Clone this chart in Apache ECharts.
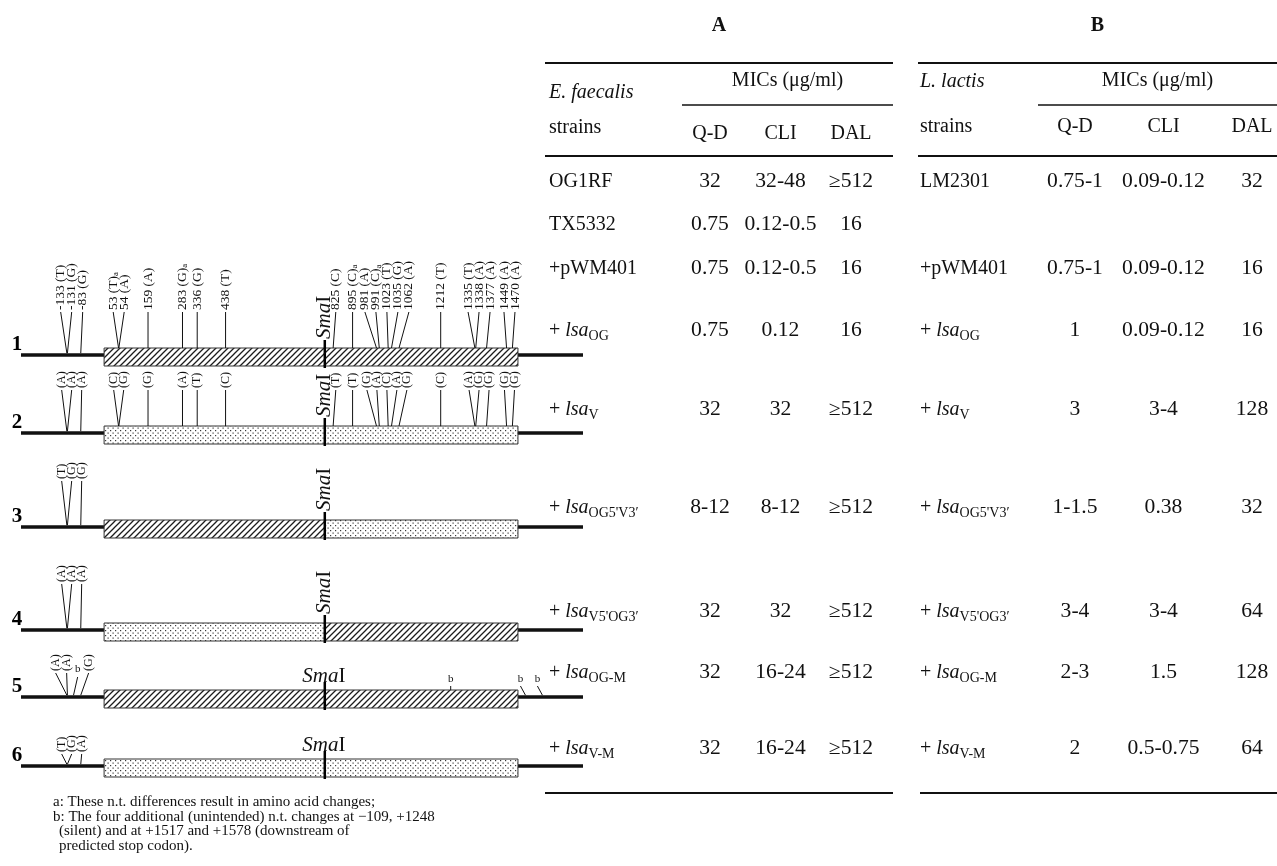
<!DOCTYPE html>
<html>
<head>
<meta charset="utf-8">
<title>lsa constructs and MICs</title>
<script src="https://cdn.jsdelivr.net/npm/echarts@6/dist/echarts.min.js"></script>
<style>
  html, body { margin: 0; padding: 0; background: #fff; }
  #chart { width: 1277px; height: 866px; }
</style>
</head>
<body>
<div id="chart"></div>
<script>
// ---------- data ----------
// n.t. positions where lsa(OG) and lsa(V) differ
var mutPos = [-133, -131, -83, 53, 54, 159, 283, 336, 438, 825, 895, 981, 991, 1023, 1035, 1062, 1212, 1335, 1338, 1377, 1449, 1470];
var baseOG = ['T', 'G', 'G', 'T', 'A', 'A', 'G', 'G', 'T', 'C', 'C', 'A', 'C', 'T', 'G', 'A', 'T', 'T', 'A', 'A', 'A', 'A'];
var baseV  = ['A', 'A', 'A', 'C', 'G', 'G', 'A', 'T', 'C', 'T', 'T', 'G', 'A', 'C', 'A', 'G', 'C', 'A', 'G', 'G', 'G', 'G'];
var aaChange = [53, 283, 895, 991];        // footnote a
var extraPos = [-109, 1248, 1517, 1578];   // footnote b (construct 5 only)
var upBases = [['T', 'G', 'G'], ['A', 'A', 'A'], ['T', 'G', 'G'], ['A', 'A', 'A'], ['A', 'A', 'G'], ['T', 'G', 'A']];

var constructs = ['1', '2', '3', '4', '5', '6'];
var half5 = ['OG', 'V', 'OG', 'V', 'OG', 'V'];
var half3 = ['OG', 'V', 'V', 'OG', 'OG', 'V'];
var geneStart = 1, smaPos = 795, geneEnd = 1490;
var lineStart = -298, lineEnd = 1724;

var drugs = ['Q-D', 'CLI', 'DAL'];
var variants = ['OG', 'V', "OG5'V3′", "V5'OG3′", 'OG-M', 'V-M'];
var strainsA = ['OG1RF', 'TX5332', '+pWM401'].concat(variants);
var qdA  = ['32', '0.75', '0.75', '0.75', '32', '8-12', '32', '32', '32'];
var cliA = ['32-48', '0.12-0.5', '0.12-0.5', '0.12', '32', '8-12', '32', '16-24', '16-24'];
var dalA = ['≥512', '16', '16', '16', '≥512', '≥512', '≥512', '≥512', '≥512'];
var strainsB = ['LM2301', '+pWM401'].concat(variants);
var qdB  = ['0.75-1', '0.75-1', '1', '3', '1-1.5', '3-4', '2-3', '2'];
var cliB = ['0.09-0.12', '0.09-0.12', '0.09-0.12', '3-4', '0.38', '3-4', '1.5', '0.5-0.75'];
var dalB = ['32', '16', '16', '128', '32', '64', '128', '64'];

// ---------- layout ----------
var rowY = [182, 225, 269, 331, 410, 508, 612, 673, 749];
var rowsA = [0, 1, 2, 3, 4, 5, 6, 7, 8];
var rowsB = [0, 2, 3, 4, 5, 6, 7, 8];
var trackY = [355, 433, 527, 630, 697, 766];
var labelGap = [45, 45, 48, 48, 26, 14];
var tables = [
    {title: 'A', host: 'E. faecalis', left: 545, right: 893, subLeft: 682, strainX: 549, hostY: 93, strainsY: 128, drugY: 134, bottomLeft: 545},
    {title: 'B', host: 'L. lactis', left: 918, right: 1277, subLeft: 1038, strainX: 920, hostY: 82, strainsY: 127, drugY: 127, bottomLeft: 920}
];
var serif = '"Liberation Serif", "DejaVu Serif", serif';
var ink = '#111';

function tile(kind) {
    var c = document.createElement('canvas');
    var s = kind === 'OG' ? 6 : 5;
    c.width = s; c.height = s;
    var g = c.getContext('2d');
    g.fillStyle = '#fff';
    g.fillRect(0, 0, s, s);
    if (kind === 'OG') {
        g.strokeStyle = '#1c1c1c';
        g.lineWidth = 1.3;
        g.beginPath();
        g.moveTo(-1, s + 1); g.lineTo(s + 1, -1);
        g.moveTo(-1, 1); g.lineTo(1, -1);
        g.moveTo(s - 1, s + 1); g.lineTo(s + 1, s - 1);
        g.stroke();
    } else {
        g.fillStyle = '#3a3a3a';
        g.fillRect(0, 0, 1.2, 1.2);
        g.fillRect(2.5, 2.5, 1.2, 1.2);
    }
    return {image: c, repeat: 'repeat'};
}
var fills = {OG: tile('OG'), V: tile('V')};

function tok(size, extra) {
    var o = {fontSize: size, fontFamily: serif, fill: ink};
    for (var k in extra) o[k] = extra[k];
    return o;
}

function spread(xs, gap) {
    var order = xs.map(function (x, i) { return i; }).sort(function (a, b) { return xs[a] - xs[b]; });
    var out = xs.slice();
    for (var it = 0; it < 80; it++) {
        var moved = false;
        for (var j = 1; j < order.length; j++) {
            var a = order[j - 1], b = order[j];
            var d = out[b] - out[a];
            if (d < gap - 0.01) {
                var m = (gap - d) / 2;
                out[a] -= m; out[b] += m; moved = true;
            }
        }
        if (!moved) break;
    }
    return out;
}

// labels drawn above construct k
function labelsFor(k) {
    var list = [];
    if (k < 2) {
        var bases = k === 0 ? baseOG : baseV;
        mutPos.forEach(function (p, i) {
            var t = k === 0 ? '{n|' + p + ' (' + bases[i] + ')}' : '{n|(' + bases[i] + ')}';
            if (k === 0 && aaChange.indexOf(p) >= 0) t += '{s|a}';
            list.push({pos: p, text: t, rot: true});
        });
    } else {
        mutPos.slice(0, 3).forEach(function (p, i) {
            list.push({pos: p, text: '{n|(' + upBases[k][i] + ')}', rot: true});
        });
        if (k === 4) {
            list.push({pos: extraPos[0], text: 'b', rot: false});
        }
    }
    return list;
}

function renderConstruct(params, api) {
    var k = params.dataIndex;
    var ty = trackY[k];
    var X = function (nt) { return api.coord([nt, ty])[0]; };
    var xL = X(lineStart), xR = X(lineEnd), xs = X(geneStart), xm = X(smaPos), xe = X(geneEnd);
    var top = ty - 7, h = 18;
    var kids = [];
    kids.push({type: 'line', shape: {x1: xL, y1: ty, x2: xR, y2: ty}, style: {stroke: ink, lineWidth: 3.5}});
    kids.push({type: 'rect', shape: {x: xs, y: top, width: xm - xs, height: h}, style: {fill: fills[half5[k]], stroke: '#333', lineWidth: 1}});
    kids.push({type: 'rect', shape: {x: xm, y: top, width: xe - xm, height: h}, style: {fill: fills[half3[k]], stroke: '#333', lineWidth: 1}});
    kids.push({type: 'line', shape: {x1: xm, y1: ty - 15, x2: xm, y2: ty + 13}, style: {stroke: '#000', lineWidth: 2.5}});
    kids.push({type: 'text', style: {text: constructs[k], x: xL - 4, y: ty - 10, fontSize: 21, fontWeight: 'bold', fontFamily: serif, fill: '#000', align: 'center', verticalAlign: 'middle'}});

    var smaRich = {i: tok(21, {fontStyle: 'italic'}), r: tok(21)};
    if (k < 4) {
        kids.push({type: 'text', x: xm, y: ty - 16, rotation: Math.PI / 2,
            style: {text: '{i|Sma}{r|I}', x: 0, y: 0, align: 'left', verticalAlign: 'middle', rich: smaRich, fontSize: 21, fontFamily: serif}});
    } else {
        kids.push({type: 'text', style: {text: '{i|Sma}{r|I}', x: xm - 1, y: ty - 21, align: 'center', verticalAlign: 'middle', rich: smaRich, fontSize: 21, fontFamily: serif}});
    }

    // mutation labels and connectors
    var labs = labelsFor(k);
    var gap = k === 0 ? 11 : (k === 4 ? 11 : 10);
    var lx = spread(labs.map(function (l) { return X(l.pos); }), gap);
    if (k < 2) {
        // keep labels right of the SmaI site clear of the vertical SmaI text
        var right = labs.map(function (l, i) { return i; })
            .filter(function (i) { return labs[i].pos > smaPos; })
            .sort(function (a, b) { return lx[a] - lx[b]; });
        var cur = xm + 11;
        right.forEach(function (i) {
            if (lx[i] < cur) lx[i] = cur;
            cur = lx[i] + gap;
        });
    }
    var bottom = ty - labelGap[k];
    var size = k === 0 ? 13.5 : 12;
    labs.forEach(function (l, i) {
        var tx = X(l.pos);
        var inGene = l.pos >= geneStart && l.pos <= geneEnd;
        var endY = inGene ? top : ty - 1.8;
        var startY = bottom + 2;
        if (l.rot) {
            kids.push({type: 'text', x: lx[i], y: bottom, rotation: Math.PI / 2,
                style: {text: l.text, x: 0, y: 0, align: 'left', verticalAlign: 'middle', fontSize: size, fontFamily: serif,
                    rich: {n: tok(size), s: tok(9, {verticalAlign: 'bottom'})}}});
        } else {
            kids.push({type: 'text', style: {text: l.text, x: lx[i], y: bottom + 4, align: 'center', verticalAlign: 'bottom', fontSize: 11, fontFamily: serif, fill: ink}});
            startY = bottom + 6;
        }
        kids.push({type: 'line', shape: {x1: lx[i], y1: startY, x2: tx, y2: endY}, style: {stroke: ink, lineWidth: 1}});
    });

    // unintended changes inside / downstream of the gene (construct 5)
    if (k === 4) {
        extraPos.slice(1).forEach(function (p) {
            var tx = X(p);
            var inGene = p <= geneEnd;
            var endY = inGene ? top : ty - 1.8;
            var lab = inGene ? tx : tx - 5;
            kids.push({type: 'text', style: {text: 'b', x: lab, y: ty - 12, align: 'center', verticalAlign: 'bottom', fontSize: 11, fontFamily: serif, fill: ink}});
            kids.push({type: 'line', shape: {x1: lab, y1: ty - 11, x2: tx, y2: endY}, style: {stroke: ink, lineWidth: 1}});
        });
    }
    return {type: 'group', children: kids};
}

function strainText(s) {
    if (variants.indexOf(s) >= 0) return '{p|+ }{it|lsa}{sub|' + s + '}';
    return '{p|' + s + '}';
}
var tableRich = {p: tok(20), it: tok(20, {fontStyle: 'italic'}), sub: tok(14, {padding: [10, 0, 0, 0]})};

function tableRows(t, strains, qd, cli, dal, rows) {
    return function (params, api) {
        var i = params.dataIndex;
        var y = api.coord([0, rowY[rows[i]]])[1];
        var kids = [{type: 'text', style: {text: strainText(strains[i]), x: t.strainX, y: y, align: 'left', verticalAlign: 'middle', rich: tableRich, fontSize: 20, fontFamily: serif}}];
        [qd[i], cli[i], dal[i]].forEach(function (v, c) {
            kids.push({type: 'text', x: api.coord([c, 0])[0], y: y, scaleX: 1.08,
                style: {text: v, x: 0, y: 0, align: 'center', verticalAlign: 'middle', fontSize: 20, fontFamily: serif, fill: ink}});
        });
        return {type: 'group', children: kids};
    };
}

function tableHeader(t) {
    return function (params, api) {
        var Y = function (v) { return api.coord([0, v])[1]; };
        var rule = function (x1, x2, y, w) {
            return {type: 'line', shape: {x1: x1, y1: Y(y), x2: x2, y2: Y(y)}, style: {stroke: ink, lineWidth: w}};
        };
        var txt = function (s, x, y, align, extra) {
            var st = {text: s, x: x, y: Y(y), align: align, verticalAlign: 'middle', fontSize: 20, fontFamily: serif, fill: ink};
            for (var k in extra) st[k] = extra[k];
            return {type: 'text', style: st};
        };
        var kids = [
            txt(t.title, (t.left + t.right) / 2, 26, 'center', {fontWeight: 'bold', fontSize: 20}),
            rule(t.left, t.right, 63, 2),
            txt('MICs (μg/ml)', (t.subLeft + t.right) / 2, 81, 'center'),
            rule(t.subLeft, t.right, 105, 1.5),
            txt(t.host, t.strainX, t.hostY, 'left', {fontStyle: 'italic'}),
            txt('strains', t.strainX, t.strainsY, 'left'),
            rule(t.left, t.right, 156, 2),
            rule(t.bottomLeft, t.right, 793, 2)
        ];
        drugs.forEach(function (d, c) {
            kids.push(txt(d, api.coord([c, 0])[0], t.drugY, 'center'));
        });
        return {type: 'group', children: kids};
    };
}

var notes = [
    'a: These n.t. differences result in amino acid changes;',
    'b: The four additional (unintended) n.t. changes at −109, +1248',
    '(silent) and at +1517 and +1578 (downstream of',
    'predicted stop codon).'
];
var noteIndent = [0, 0, 6, 6];

var chart = echarts.init(document.getElementById('chart'));
var yAx = function (g) { return {type: 'value', gridIndex: g, min: 0, max: 866, inverse: true, show: false}; };
var option = {
    animation: false,
    backgroundColor: '#fff',
    grid: [
        {left: 21, top: 0, width: 562, height: 866},
        {left: 710, top: 0, width: 141, height: 866},
        {left: 1075, top: 0, width: 177, height: 866}
    ],
    xAxis: [
        {type: 'value', gridIndex: 0, min: lineStart, max: lineEnd, show: false},
        {type: 'category', gridIndex: 1, data: drugs, boundaryGap: false, show: false},
        {type: 'category', gridIndex: 2, data: drugs, boundaryGap: false, show: false}
    ],
    yAxis: [yAx(0), yAx(1), yAx(2)],
    series: [
        {type: 'custom', xAxisIndex: 0, yAxisIndex: 0, data: constructs.map(function (c, i) { return [0, trackY[i]]; }), renderItem: renderConstruct, silent: true},
        {type: 'custom', xAxisIndex: 1, yAxisIndex: 1, data: [[0, 0]], renderItem: tableHeader(tables[0]), silent: true},
        {type: 'custom', xAxisIndex: 1, yAxisIndex: 1, data: rowsA.map(function (r) { return [0, rowY[r]]; }), renderItem: tableRows(tables[0], strainsA, qdA, cliA, dalA, rowsA), silent: true},
        {type: 'custom', xAxisIndex: 2, yAxisIndex: 2, data: [[0, 0]], renderItem: tableHeader(tables[1]), silent: true},
        {type: 'custom', xAxisIndex: 2, yAxisIndex: 2, data: rowsB.map(function (r) { return [0, rowY[r]]; }), renderItem: tableRows(tables[1], strainsB, qdB, cliB, dalB, rowsB), silent: true}
    ],
    graphic: notes.map(function (n, i) {
        return {type: 'text', left: 53 + noteIndent[i], top: 795 + i * 14.5, style: {text: n, fontSize: 15, fontFamily: serif, fill: ink}};
    })
};
chart.setOption(option);
</script>
</body>
</html>
